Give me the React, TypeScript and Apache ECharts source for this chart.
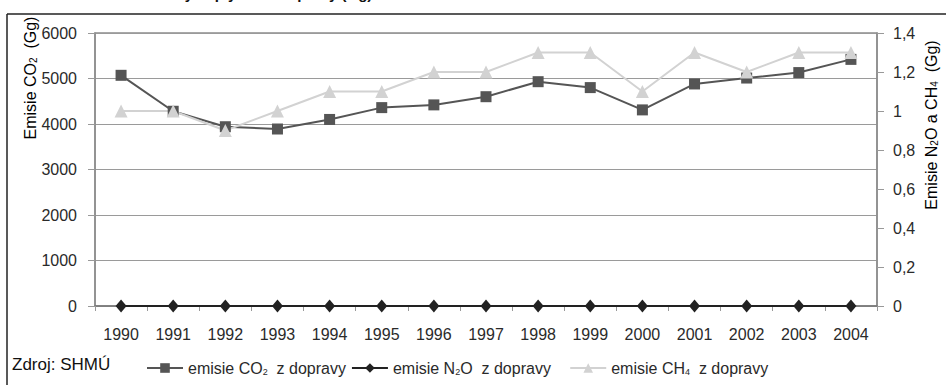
import React, { useEffect, useRef } from "react";
import * as echarts from "echarts";

const years = ["1990","1991","1992","1993","1994","1995","1996","1997","1998","1999","2000","2001","2002","2003","2004"];
const co2 = [5070, 4280, 3940, 3890, 4100, 4360, 4420, 4600, 4930, 4800, 4310, 4880, 5010, 5130, 5420];
const n2o = [0, 0, 0, 0, 0, 0, 0, 0, 0, 0, 0, 0, 0, 0, 0];
const ch4 = [1.0, 1.0, 0.9, 1.0, 1.1, 1.1, 1.2, 1.2, 1.3, 1.3, 1.1, 1.3, 1.2, 1.3, 1.3];
const seriesNames = ["emisie CO2  z dopravy", "emisie N2O  z dopravy", "emisie CH4  z dopravy"];
const legendRich = [
  "{a|emisie CO}{s|2}{a|  z dopravy}",
  "{a|emisie N}{s|2}{a|O  z dopravy}   ",
  "{a|emisie CH}{s|4}{a|  z dopravy}",
];

const FONT = "'Liberation Sans', Arial, sans-serif";
const TXT = "#2a2a2a";

export default function App() {
  const ref = useRef<HTMLDivElement>(null);
  useEffect(() => {
    if (!ref.current) return;
    const chart = echarts.init(ref.current, null, { renderer: "svg" });
    const richLegend = {
      a: { fontFamily: FONT, fontSize: 16, color: TXT },
      s: { fontFamily: FONT, fontSize: 9, color: TXT, verticalAlign: "bottom", padding: [7, 0, 0, 0] },
    };
    const richName = {
      a: { fontFamily: FONT, fontSize: 16, color: TXT },
      s: { fontFamily: FONT, fontSize: 10, color: TXT, verticalAlign: "bottom", padding: [6, 0, 0, 0] },
    };
    chart.setOption({
      animation: false,
      backgroundColor: "#fff",
      grid: { left: 95, right: 69, top: 33, bottom: 79, show: true, borderColor: "#8c8c8c", borderWidth: 1.5 },
      xAxis: {
        type: "category",
        data: years,
        boundaryGap: true,
        axisLine: { lineStyle: { color: "#777", width: 1.5 } },
        axisTick: { show: true, length: 5, lineStyle: { color: "#999" } },
        axisLabel: { margin: 20, fontFamily: FONT, fontSize: 16, color: TXT },
      },
      yAxis: [
        {
          type: "value",
          min: 0,
          max: 6000,
          interval: 1000,
          axisLine: { show: true, lineStyle: { color: "#8c8c8c", width: 1.5 } },
          axisTick: { show: true, length: 7, lineStyle: { color: "#999" } },
          axisLabel: { margin: 18, fontFamily: FONT, fontSize: 16, color: TXT, formatter: (v: number) => String(v) },
          splitLine: { show: true, lineStyle: { color: "#9a9a9a", width: 1 } },
        },
        {
          type: "value",
          min: 0,
          max: 1.4,
          interval: 0.2,
          position: "right",
          axisLine: { show: true, lineStyle: { color: "#8c8c8c", width: 1.5 } },
          axisTick: { show: true, length: 7, lineStyle: { color: "#999" } },
          axisLabel: {
            margin: 16,
            fontFamily: FONT,
            fontSize: 16,
            color: TXT,
            formatter: (v: number) => String(Number(v.toFixed(1))).replace(".", ","),
          },
          splitLine: { show: false },
        },
      ],
      legend: {
        left: 141,
        top: 355,
        itemWidth: 36,
        itemHeight: 12,
        itemGap: 5,
        data: seriesNames,
        formatter: (name: string) => legendRich[seriesNames.indexOf(name)],
        textStyle: { fontFamily: FONT, fontSize: 16, color: TXT, rich: richLegend },
      },
      series: [
        {
          name: seriesNames[0],
          type: "line",
          data: co2,
          yAxisIndex: 0,
          symbol: "rect",
          symbolSize: 11,
          itemStyle: { color: "#555555" },
          lineStyle: { color: "#555555", width: 2 },
        },
        {
          name: seriesNames[1],
          type: "line",
          data: n2o,
          yAxisIndex: 1,
          symbol: "diamond",
          symbolSize: [11, 13],
          itemStyle: { color: "#222222" },
          lineStyle: { color: "#222222", width: 2 },
        },
        {
          name: seriesNames[2],
          type: "line",
          data: ch4,
          yAxisIndex: 1,
          symbol: "triangle",
          symbolSize: 13,
          itemStyle: { color: "#d2d2d2" },
          lineStyle: { color: "#d2d2d2", width: 2 },
        },
      ],
      graphic: [
        { type: "line", shape: { x1: 7, y1: 14, x2: 7, y2: 385 }, style: { stroke: "#222", lineWidth: 1.5 } },
        { type: "line", shape: { x1: 7, y1: 14, x2: 946, y2: 14 }, style: { stroke: "#222", lineWidth: 1.5 } },
        {
          type: "text",
          x: 8,
          y: 1,
          style: {
            text: "Graf 18 Emisie skleníkových plynov z dopravy (Gg)",
            fontFamily: FONT,
            fontWeight: "bold",
            fontSize: 15,
            fill: "#111",
            verticalAlign: "bottom",
          },
        },
        {
          type: "text",
          x: 12,
          y: 364,
          style: {
            text: "Zdroj: SHMÚ",
            fontFamily: FONT,
            fontSize: 17,
            fill: "#111",
            verticalAlign: "middle",
          },
        },
        {
          type: "text",
          x: 30,
          y: 78,
          rotation: Math.PI / 2,
          style: {
            text: "{a|Emisie CO}{s|2}{a|  (Gg)}",
            rich: richName,
            align: "center",
            verticalAlign: "middle",
          },
        },
        {
          type: "text",
          x: 931,
          y: 125,
          rotation: Math.PI / 2,
          style: {
            text: "{a|Emisie N}{s|2}{a|O a CH}{s|4}{a|  (Gg)}",
            rich: richName,
            align: "center",
            verticalAlign: "middle",
          },
        },
      ],
    });
    return () => chart.dispose();
  }, []);
  return (
    <div
      ref={ref}
      style={{ position: "fixed", left: 0, top: 0, width: 946, height: 385, background: "#fff" }}
    />
  );
}
